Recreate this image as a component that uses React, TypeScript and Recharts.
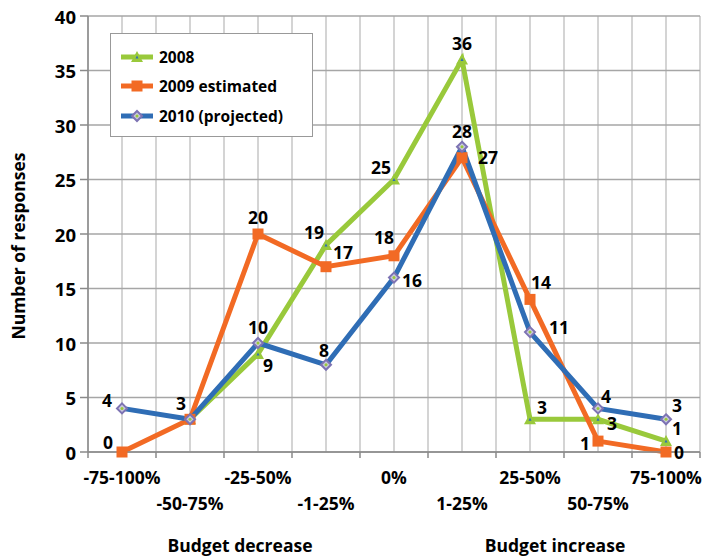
import React from "react";
import { LineChart, Line, XAxis, YAxis, CartesianGrid } from "recharts";

const categories = ["-75-100%", "-50-75%", "-25-50%", "-1-25%", "0%", "1-25%", "25-50%", "50-75%", "75-100%"];
const values2008 = [null, 3, 9, 19, 25, 36, 3, 3, 1];
const values2009 = [0, 3, 20, 17, 18, 27, 14, 1, 0];
const values2010 = [4, 3, 10, 8, 16, 28, 11, 4, 3];
const yTicks = [0, 5, 10, 15, 20, 25, 30, 35, 40];
const groupLabels = ["Budget decrease", "Budget increase"];

// label offsets (dx, dy) from each point; null = no label
const off2008: ([number, number] | null)[] = [null, null, [10, 11], [-12, -13], [-13, -13], [0, -17], [12, -12], [14, 4], [11, -13]];
const off2009: ([number, number] | null)[] = [[-14, -10], [-9, -16], [0, -17], [17, -15], [-10, -19], [26, -1], [11, -17], [-13, 2], [13, 0]];
const off2010: ([number, number] | null)[] = [[-15, -8], null, [0, -16], [-2, -15], [18, 2], [0, -16], [29, -5], [8, -12], [11, -14]];

const GREEN = "#99c93b";
const ORANGE = "#f26a24";
const BLUE = "#2f6db5";
const FONT = "'Open Sans', sans-serif";
const FS = 17.5;
const FW = 700;

const data = categories.map((c, i) => ({
  x: i + 0.5,
  name: c,
  y2008: values2008[i],
  y2009: values2009[i],
  y2010: values2010[i],
}));

const xTicks = Array.from({ length: 19 }, (_, i) => i / 2);

const Tri = ({ cx, cy }: any) => (
  <g>
    <polygon points={`${cx},${cy - 6} ${cx - 6},${cy + 5} ${cx + 6},${cy + 5}`} fill={GREEN} />
    <polygon points={`${cx},${cy - 1.5} ${cx - 1.5},${cy + 1.5} ${cx + 1.5},${cy + 1.5}`} fill={BLUE} />
  </g>
);
const Sq = ({ cx, cy }: any) => <rect x={cx - 5.5} y={cy - 5.5} width={11} height={11} fill={ORANGE} />;
const Dia = ({ cx, cy }: any) => (
  <g>
    <polygon points={`${cx},${cy - 5} ${cx + 5},${cy} ${cx},${cy + 5} ${cx - 5},${cy}`} fill="#c9c9dc" stroke="#7d73b3" strokeWidth={2} />
    <circle cx={cx} cy={cy} r={1.5} fill={GREEN} />
  </g>
);

const dotFor = (Shape: any) => (p: any) => {
  if (p.value == null) return <g key={p.index} />;
  return <Shape key={p.index} cx={p.cx} cy={p.cy} />;
};

const labelFor = (offs: ([number, number] | null)[]) => (p: any) => {
  const o = offs[p.index];
  if (!o || p.value == null) return <g key={p.index} />;
  return (
    <text key={p.index} x={p.x + o[0]} y={p.y + o[1]} textAnchor="middle" dominantBaseline="central"
      fontSize={FS} fontWeight={FW} fontFamily={FONT} fill="#000">
      {p.value}
    </text>
  );
};

const XTick = ({ x, y, payload }: any) => {
  const v = payload.value;
  if (Number.isInteger(v)) {
    return <line x1={x} y1={y - 8} x2={x} y2={y - 2} stroke="#8a8a8a" strokeWidth={1.5} />;
  }
  const idx = Math.floor(v);
  const row = idx % 2;
  return (
    <text x={x} y={y + 17 + row * 26} textAnchor="middle" dominantBaseline="central"
      fontSize={FS} fontWeight={FW} fontFamily={FONT} fill="#000">
      {categories[idx]}
    </text>
  );
};

const YTick = ({ x, y, payload }: any) => (
  <text x={x - 2} y={y} textAnchor="end" dominantBaseline="central" fontSize={18.5} fontWeight={FW} fontFamily={FONT} fill="#000">
    {payload.value}
  </text>
);

const legendItems = [
  { label: "2008", color: GREEN, Shape: Tri },
  { label: "2009 estimated", color: ORANGE, Shape: Sq },
  { label: "2010 (projected)", color: BLUE, Shape: Dia },
];

const LegendBox = () => (
  <div style={{ position: "absolute", left: 110, top: 33, width: 203, height: 104, border: "1.5px solid #999", background: "#fff", boxSizing: "border-box", paddingTop: 8 }}>
    {legendItems.map((it) => (
      <div key={it.label} style={{ display: "flex", alignItems: "center", height: 29.5 }}>
        <svg width={40} height={16} style={{ marginLeft: 8 }}>
          <line x1={2} y1={8} x2={34} y2={8} stroke={it.color} strokeWidth={5} />
          <it.Shape cx={18} cy={8} />
        </svg>
        <span style={{ fontFamily: FONT, fontWeight: FW, fontSize: 15.5, color: "#000", marginLeft: 0 }}>{it.label}</span>
      </div>
    ))}
  </div>
);

const groupStyle: React.CSSProperties = {
  position: "absolute", top: 545, transform: "translate(-50%,-50%)",
  fontFamily: FONT, fontWeight: FW, fontSize: FS, whiteSpace: "nowrap",
};

export default function App() {
  return (
    <div style={{ position: "absolute", left: 0, top: 0, width: 708, height: 558, background: "#fff" }}>
      <LineChart width={708} height={558} data={data} margin={{ top: 16, right: 8, bottom: 0, left: 0 }}>
        <CartesianGrid horizontal={false} stroke="#d4d4d4" strokeWidth={2} />
        <CartesianGrid vertical={false} stroke="#a6a6a6" strokeWidth={1.5} />
        <XAxis dataKey="x" type="number" domain={[0, 9]} ticks={xTicks} interval={0} height={106}
          tick={<XTick />} tickLine={false} axisLine={{ stroke: "#8a8a8a", strokeWidth: 1.5 }} />
        <YAxis type="number" domain={[0, 40]} ticks={yTicks} interval={0} width={88}
          tick={<YTick />} tickSize={8} tickLine={{ stroke: "#8a8a8a", strokeWidth: 1.5 }}
          axisLine={{ stroke: "#8a8a8a", strokeWidth: 1.5 }}
          label={{ value: "Number of responses", angle: -90, position: "insideLeft", dx: 14, dy: 12,
            style: { fontFamily: FONT, fontWeight: FW, fontSize: FS, fill: "#000", textAnchor: "middle" } }} />
        <Line dataKey="y2008" stroke={GREEN} strokeWidth={5} dot={dotFor(Tri)} label={labelFor(off2008)} isAnimationActive={false} connectNulls={false} />
        <Line dataKey="y2009" stroke={ORANGE} strokeWidth={5} dot={dotFor(Sq)} label={labelFor(off2009)} isAnimationActive={false} />
        <Line dataKey="y2010" stroke={BLUE} strokeWidth={5} dot={dotFor(Dia)} label={labelFor(off2010)} isAnimationActive={false} />
      </LineChart>
      <LegendBox />
      <div style={{ ...groupStyle, left: 240 }}>{groupLabels[0]}</div>
      <div style={{ ...groupStyle, left: 555 }}>{groupLabels[1]}</div>
    </div>
  );
}
